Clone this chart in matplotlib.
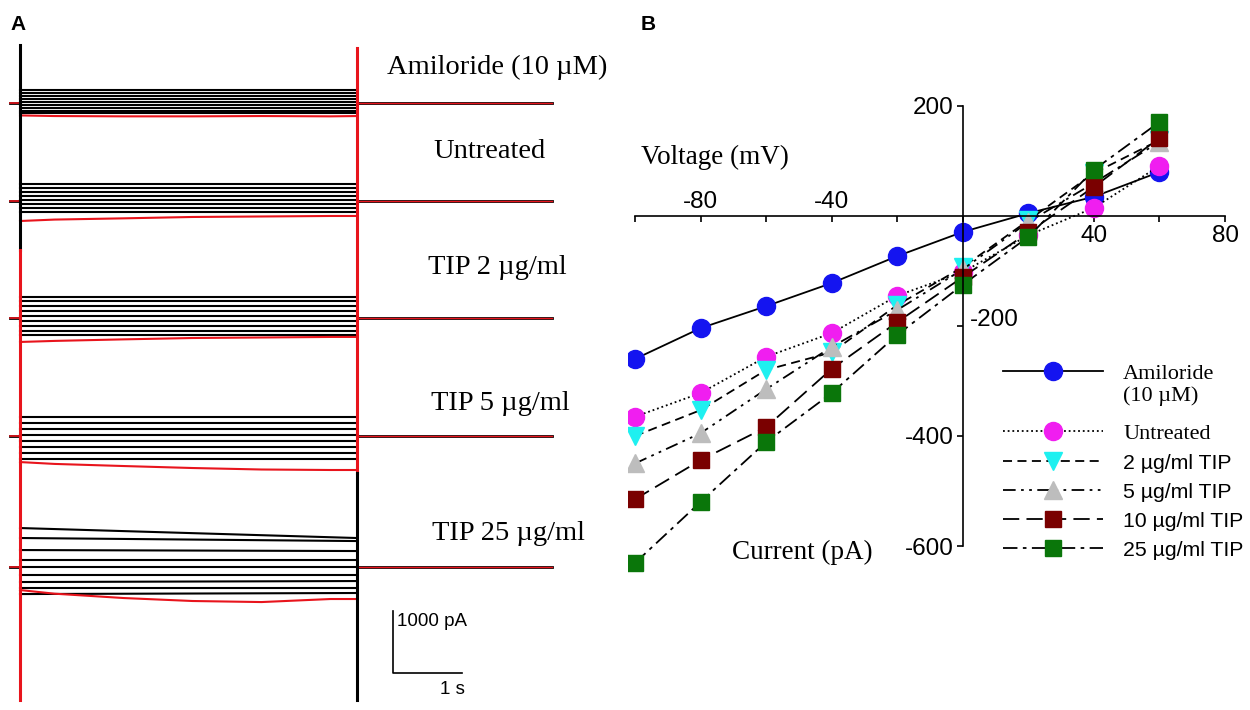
import matplotlib
matplotlib.use('Agg')
import matplotlib.pyplot as plt
import numpy as np

# ---------------- data ----------------
# panel B: I-V relation, current in pA at each step voltage (mV)
voltage = [-100, -80, -60, -40, -20, 0, 20, 40, 60]
amiloride = [-260, -204, -164, -122, -73, -29, 5, 35, 80]
untreated = [-365, -322, -256, -213, -145, -102, -35, 15, 91]
tip2 = [-400, -353, -280, -248, -162, -93, -8, 78, 138]
tip5 = [-450, -395, -315, -238, -171, -97, -11, 60, 135]
tip10 = [-515, -444, -384, -278, -193, -111, -30, 53, 142]
tip25 = [-631, -520, -411, -322, -216, -125, -38, 84, 171]

# panel A: whole-cell current traces (pA relative to holding level)
trace_names = ['Amiloride (10 \u00b5M)', 'Untreated', 'TIP 2 \u00b5g/ml',
               'TIP 5 \u00b5g/ml', 'TIP 25 \u00b5g/ml']
black_start = [
    [210, 161, 113, 65, 16, -32, -81, -129, -161],
    [274, 210, 145, 81, 16, -48, -113, -177],
    [339, 266, 193, 113, 32, -48, -129, -210, -274],
    [306, 210, 113, 16, -81, -177, -274, -371],
    [629, 468, 274, 113, 0, -129, -242, -339, -436],
]
black_end = [
    [210, 161, 113, 65, 16, -32, -81, -129, -161],
    [274, 210, 145, 81, 16, -48, -113, -177],
    [339, 266, 193, 113, 32, -48, -129, -210, -274],
    [306, 210, 113, 16, -81, -177, -274, -371],
    [468, 419, 258, 113, 0, -129, -226, -339, -419],
]
red_time = [0, 0.5, 1.5, 2.5, 3.5, 4.5, 4.88]
red_vals = [
    [-200, -210, -215, -215, -210, -215, -210],
    [-323, -300, -280, -258, -250, -242, -242],
    [-387, -370, -345, -323, -315, -306, -306],
    [-420, -450, -484, -516, -540, -548, -548],
    [-371, -430, -500, -548, -565, -516, -516],
]
pulse_len = 4.88   # s
tail_len = 2.83    # s

# ---------------- layout ----------------
offsets = [9790, 8210, 6323, 4419, 2306]   # display offset of each trace group
label_pos = [(497, 67), (490, 152), (497, 268), (500, 403), (508, 533)]  # px
RED = '#e8141c'
serif = 'Liberation Serif'
sans = 'Liberation Sans'

fig = plt.figure(figsize=(12.5, 7.1), dpi=100)

# ---------------- panel A ----------------
axA = fig.add_axes([0, 0, 0.5, 1])
axA.set_xlim(-20 / 69, 605 / 69)
axA.set_ylim(0, 710 * 1000 / 62)
axA.axis('off')

for g, off in enumerate(offsets):
    # holding level before and after the step
    axA.plot([-0.145, 0], [off, off], color='k', lw=2)
    axA.plot([-0.145, 0], [off, off], color=RED, lw=1.2)
    axA.plot([pulse_len, pulse_len + tail_len], [off, off], color='k', lw=2)
    axA.plot([pulse_len, pulse_len + tail_len], [off, off], color=RED, lw=1.0)
    for s, e in zip(black_start[g], black_end[g]):
        axA.plot([0, pulse_len], [off + s, off + e], color='k', lw=1.5)
    axA.plot(red_time, off + np.array(red_vals[g]), color=RED, lw=1.5)

# capacitive transients at step on / off
axA.plot([0, 0], [7419, 10726], color='k', lw=2.2)
axA.plot([0, 0], [161, 7419], color=RED, lw=2.2)
axA.plot([pulse_len, pulse_len], [3823, 10677], color=RED, lw=2.2)
axA.plot([pulse_len, pulse_len], [161, 3823], color='k', lw=2.2)

# scale bar 1000 pA / 1 s
axA.plot([5.41, 5.41, 6.41], [1597, 597, 597], color='k', lw=1.2)
axA.text(5.47, 1420, '1000 pA', family=sans, fontsize=13.5, va='center', ha='left')
axA.text(6.45, 330, '1 s', family=sans, fontsize=13.5, va='center', ha='right')

for name, (px, py) in zip(trace_names, label_pos):
    fig.text(px / 1250, 1 - py / 710, name, family=serif, fontsize=20.5,
             ha='center', va='center')

fig.text(18 / 1250, 1 - 25 / 710, 'A', family=sans, fontweight='bold',
         fontsize=15, ha='center', va='center')
fig.text(648 / 1250, 1 - 25 / 710, 'B', family=sans, fontweight='bold',
         fontsize=15, ha='center', va='center')

# ---------------- panel B ----------------
axB = fig.add_axes([0.5027, 0.1845, 0.4826, 0.6856])
axB.set_xlim(-102, 82)
axB.set_ylim(-660, 225)
axB.patch.set_visible(False)

series = [
    (amiloride, 'Amiloride', 'o', '#1414f0', '-', 13),
    (untreated, 'Untreated', 'o', '#f01ef0', (0, (1, 1.6)), 13),
    (tip2, '2 \u00b5g/ml TIP', 'v', '#1ef0f0', (0, (5, 3)), 13),
    (tip5, '5 \u00b5g/ml TIP', '^', '#bdbdbd', (0, (7, 3, 1.5, 3, 1.5, 3)), 13),
    (tip10, '10 \u00b5g/ml TIP', 's', '#7a0000', (0, (9, 4)), 11),
    (tip25, '25 \u00b5g/ml TIP', 's', '#0a760a', (0, (8, 3, 2, 3)), 11),
]
lines = []
for vals, lab, mk, col, ls, ms in series:
    ln, = axB.plot(voltage, vals, color='k', lw=1.3, linestyle=ls, marker=mk,
                   markersize=ms, markerfacecolor=col, markeredgecolor=col, label=lab)
    lines.append(ln)

for side in ['top', 'right']:
    axB.spines[side].set_visible(False)
axB.spines['left'].set_position(('data', 0))
axB.spines['bottom'].set_position(('data', 0))
axB.spines['left'].set_bounds(-600, 200)
axB.spines['bottom'].set_bounds(-100, 80)
for side in ['left', 'bottom']:
    axB.spines[side].set_linewidth(1.2)

xt = list(range(-100, 81, 20))
axB.set_xticks(xt)
axB.set_xticklabels(['40' if v == 40 else '80' if v == 80 else '' for v in xt])
axB.set_yticks([-600, -400, -200, 200])
axB.set_yticklabels(['-600', '-400', '', '200'])
axB.tick_params(axis='both', direction='out', length=4.5, width=1.2,
                labelsize=17.5, pad=2)
for lab in axB.get_xticklabels() + axB.get_yticklabels():
    lab.set_family(sans)

for v in [-80, -40]:
    axB.annotate(str(v), (v, 0), xytext=(0, 6), textcoords='offset points',
                 ha='center', va='baseline', family=sans, fontsize=17.5)
axB.annotate('-200', (0, -200), xytext=(5, 4), textcoords='offset points',
             ha='left', va='center', family=sans, fontsize=17.5)

axB.text(-75.7, 107, 'Voltage (mV)', family=serif, fontsize=19.5,
         ha='center', va='center')
axB.text(-49, -611, 'Current (pA)', family=serif, fontsize=19.5,
         ha='center', va='center')

# legend: amiloride entry (two-line label) on its own, then the rest
leg_kw = dict(loc='upper left', bbox_transform=fig.transFigure, frameon=False,
              numpoints=1, handlelength=4.5, handletextpad=0.9, labelspacing=0.43,
              borderpad=0, borderaxespad=0, prop={'family': serif, 'size': 16})
leg1 = axB.legend(handles=lines[:1], bbox_to_anchor=(1003 / 1250, 1 - 363 / 710), **leg_kw)
axB.add_artist(leg1)
fig.text(1123 / 1250, 1 - 396 / 710, '(10 \u00b5M)', family=serif, fontsize=16,
         ha='left', va='center')
leg2 = axB.legend(handles=lines[1:], bbox_to_anchor=(1003 / 1250, 1 - 423 / 710), **leg_kw)
for t in leg2.get_texts()[1:]:
    t.set_family(sans)
    t.set_fontsize(15.3)

fig.savefig('out.png', dpi=100)
